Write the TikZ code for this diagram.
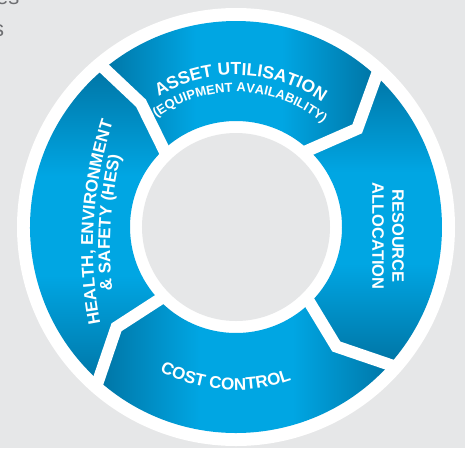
\documentclass[tikz,border=0pt]{standalone}
\usepackage{fontspec}
\setmainfont{Liberation Sans}
\usetikzlibrary{decorations.text}

\definecolor{bggray}{RGB}{230,231,232}
\definecolor{fraggray}{RGB}{110,111,114}
\pgfdeclarehorizontalshading{segshade}{100bp}{rgb(0bp)=(0,0.46,0.65); rgb(25bp)=(0,0.46,0.65);
  rgb(42bp)=(0,0.65,0.89); rgb(58bp)=(0,0.65,0.89); rgb(75bp)=(0,0.46,0.65); rgb(100bp)=(0,0.46,0.65)}

\begin{document}
\begin{tikzpicture}[x=1pt,y=1pt,
  gap/.style={draw=white,line width=12pt,line join=miter},
  segment/.style={shading=segshade},
  arctext/.style={decorate,decoration={text along path,text align=center}}]
  \tikzstyle{frag}=[anchor=base west,inner sep=0pt,text=fraggray,font=\fontsize{22}{22}\selectfont]

  \useasboundingbox (-236,-221) rectangle (229,227);
  \fill[bggray] (-236,-221) rectangle (229,227);
  \clip (-236,-221) rectangle (229,227);
  \node[frag] (frag1) at (-240,222.5) {es};
  \node[frag] (frag2) at (-243,191) {s};

  \fill[white] (0,0) circle (219);
  \foreach \ao/\av/\ai/\bo/\bv/\bi/\ang in {130/127.5/134/48/39/48/0, 48/39/48/-41/-50/-45/90,
      -41/-50/-45/-131/-140/-136/0, 229/220/224/130/127.5/134/90}
    \shade[segment,shading angle=\ang] (\ao:206) arc[start angle=\ao,end angle=\bo,radius=206]
      -- (\bv:156) -- (\bi:106) arc[start angle=\bi,end angle=\ai,radius=106]
      -- (\av:156) -- cycle;
  \foreach \o/\v/\i in {130/127.5/134,48/39/48,-41/-50/-45,-131/-140/-136}
    \draw[gap] (\o:214) -- (\v:156) -- (\i:100);
  \fill[bggray] (0,0) circle (94);

  \path[arctext,decoration={text={|\color{white}\bfseries\fontsize{17.5}{20}\selectfont|ASSET UTILISATION}}]
    (148:152) arc[start angle=148,end angle=28,radius=152];
  \path[arctext,decoration={text={|\color{white}\bfseries\fontsize{13}{16}\selectfont|(EQUIPMENT AVAILABILITY)}}]
    (148:135) arc[start angle=148,end angle=28,radius=135];
  \path[arctext,decoration={text={|\color{white}\bfseries\fontsize{17}{20}\selectfont|COST CONTROL}}]
    (-144:163) arc[start angle=-144,end angle=-44,radius=163];
  \path[arctext,shift={(257,-20)},decoration={text={|\color{white}\bfseries\fontsize{17}{20}\selectfont|HEALTH, ENVIRONMENT}}]
    (196.4:400) arc[start angle=196.4,end angle=156.4,radius=400];
  \path[arctext,shift={(257,-20)},decoration={text={|\color{white}\bfseries\fontsize{17}{20}\selectfont|{\&} SAFETY (HES)}}]
    (196.4:383) arc[start angle=196.4,end angle=156.4,radius=383];

  \node[rotate=-90,align=center,text=white,font=\bfseries\fontsize{16.5}{20}\selectfont] (resource) at (152,-9)
    {RESOURCE\\ALLOCATION};
\end{tikzpicture}
\end{document}
